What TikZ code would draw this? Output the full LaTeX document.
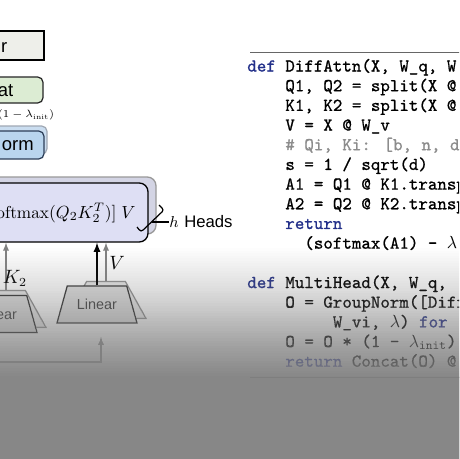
\documentclass[tikz,border=0pt]{standalone}
\usepackage{fontspec}
\usetikzlibrary{shapes.geometric}
\newfontfamily\labfont{Liberation Sans}
\newfontfamily\codefont{lmmono10-regular.otf}[FakeBold=0.9]
\definecolor{linfill}{HTML}{EEEFEA}
\definecolor{catfill}{HTML}{DCECD3}
\definecolor{gnfill}{HTML}{B9D5EE}
\definecolor{gnback}{HTML}{CADDF0}
\definecolor{gnedge}{HTML}{2C3E58}
\definecolor{attnfill}{HTML}{DEDFF4}
\definecolor{attnback}{HTML}{D3D4E4}
\definecolor{trapfill}{HTML}{E6E6E6}
\definecolor{kwblue}{HTML}{23308A}
\definecolor{cmtgray}{HTML}{8C8C8C}
\definecolor{fadegray}{HTML}{838383}
\newcommand\kw[1]{\textcolor{kwblue}{#1}}

\begin{document}
\begin{tikzpicture}[>=latex,
  linbox/.style={draw, fill=linfill, line width=0.75pt, minimum width=1.08cm, minimum height=0.58cm},
  catbox/.style={draw=black!85, fill=catfill, line width=0.7pt, rounded corners=3pt, minimum width=1.06cm, minimum height=0.52cm},
  gnbox/.style={draw=gnedge, fill=gnfill, line width=0.7pt, rounded corners=3pt, minimum width=1.08cm, minimum height=0.56cm},
  gnshadow/.style={gnbox, draw=gnedge!45, fill=gnback},
  attnbox/.style={draw, fill=attnfill, line width=0.75pt, rounded corners=5pt, minimum width=3.16cm, minimum height=1.18cm},
  attnshadow/.style={attnbox, draw=black!40, fill=attnback, minimum width=3.32cm, minimum height=1.14cm},
  trap/.style={trapezium, trapezium stretches=true, trapezium left angle=62, trapezium right angle=62,
    minimum width=1.6cm, minimum height=0.74cm, inner sep=1pt, draw=black!80, fill=trapfill, line width=0.7pt,
    font=\labfont\fontsize{8.2}{9}\selectfont, text=black!75},
  trapshadow/.style={trap, draw=black!40, fill=trapfill!70},
  boxtext/.style={inner sep=0pt, anchor=east, font=\labfont\fontsize{10.5}{12}\selectfont},
  codetext/.style={inner sep=0pt, align=left, font=\codefont\fontsize{10.3}{11.2}\selectfont},
  coderule/.style={draw=black!60, line width=0.5pt}]
\useasboundingbox (0,0) rectangle (9.18,-9.18);
\clip (0,0) rectangle (9.18,-9.18);
\fill[white] (0,0) rectangle (9.18,-9.18);

% output linear, concat and group norm
\node[linbox] (linout) at (0.34,-0.91) {};
\node[boxtext] (linoutlbl) at (0.15,-0.95) {r};
\node[catbox] (concat) at (0.33,-1.8) {};
\node[boxtext] (concatlbl) at (0.27,-1.82) {at};
\node[inner sep=0pt, anchor=east, font=\fontsize{5.8}{7}\selectfont] (scale) at (1.09,-2.3) {$\times\,(1-\lambda_{\mathrm{init}})$};
\node[gnshadow] (gnback) at (0.40,-2.80) {};
\node[gnbox] (gn) at (0.34,-2.90) {};
\node[boxtext] (gnlbl) at (0.68,-2.92) {orm};

% differential attention, h heads
\node[attnshadow] (attnback) at (1.46,-4.11) {};
\node[attnbox] (attn) at (1.38,-4.25) {};
\node[inner sep=0pt, anchor=east, font=\fontsize{9.8}{11}\selectfont] (attnlbl) at (2.72,-4.26) {$\mathrm{oftmax}(Q_2K_2^T)]\;V$};
\coordinate (hbtop) at (3.18,-4.10);
\coordinate (hbbot) at (2.74,-4.54);
\coordinate (hbtip) at (3.03,-4.44);
\draw[line width=0.7pt, rounded corners=1.5pt] (hbtop) -- (3.28,-4.20) -- (2.82,-4.64) -- (hbbot);
\node[inner sep=0pt, anchor=west, font=\fontsize{9.5}{11}\selectfont] (heads) at (3.38,-4.44) {$h$ \labfont Heads};
\draw[line width=0.6pt] (hbtip) -- (heads.west);

% linear projections
\node[trapshadow] (linkback) at (0.12,-6.18) {};
\node[trap] (link) at (-0.06,-6.28) {Linear};
\node[trapshadow] (linvback) at (2.12,-6.0) {};
\node[trap] (linv) at (1.94,-6.09) {Linear};
\draw[->, gray, semithick] (linkback.north) -- (linkback.north |- attn.south);
\draw[->, gray, semithick] (linvback.north) -- (linvback.north |- attn.south);
\draw[->, thick] (linv.north) -- (linv.north |- attn.south);
\node[font=\fontsize{10.5}{12}\selectfont] (klbl) at (0.30,-5.56) {$K_2$};
\node[font=\fontsize{10.5}{12}\selectfont] (vlbl) at (2.34,-5.26) {$V$};
\coordinate (xin) at (-0.2,-7.24);
\coordinate (vin) at (2.02,-6.74);
\draw[->, gray, semithick] (xin) -| (vin);

% pseudocode
\draw[coderule] (5.0,-1.04) -- (9.3,-1.04);
\node[codetext, anchor=north west] (diffattn) at (4.94,-1.172) {%
\kw{def} DiffAttn(X, W\_q, W\\
~~~~Q1, Q2 = split(X @\\
~~~~K1, K2 = split(X @\\
~~~~V = X @ W\_v\\
~~~~\textcolor{cmtgray}{\# Qi, Ki: [b, n, d]}\\
~~~~s = 1 / sqrt(d)\\
~~~~A1 = Q1 @ K1.transp\\
~~~~A2 = Q2 @ K2.transp\\
~~~~\kw{return}\\
~~~~~~(softmax(A1) - $\lambda$\\[11.2pt]
\kw{def} MultiHead(X, W\_q,\\
~~~~O = GroupNorm([Diff\\
~~~~~~~~~W\_vi, $\lambda$) \kw{for}\\
~~~~O = O * (1 - $\lambda_{\mathtt{init}}$)\\
~~~~\kw{return} Concat(O) @};
\draw[coderule] (5.0,-7.54) -- (9.3,-7.54);

% grey fade over the lower part, built up strip by strip
\foreach \k [evaluate=\k as \op using {0.95*(\k/52*(0.7+0.3*\k/52)-(\k-1)/52*(0.7+0.3*(\k-1)/52))/(1-0.95*(\k-1)/52*(0.7+0.3*(\k-1)/52))}] in {1,...,52}
  \fill[fadegray, fill opacity=\op] (-0.1,{-4.96-0.05*(\k-1)}) rectangle (9.3,-9.3);
\end{tikzpicture}
\end{document}
